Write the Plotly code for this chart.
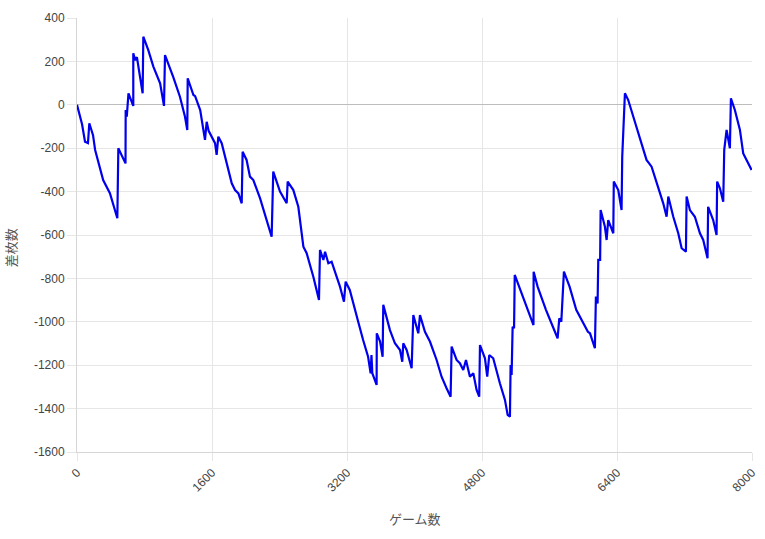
import plotly.graph_objects as go

games = [0, 60, 95, 130, 146, 190, 215, 310, 390, 478, 490, 550, 575, 577, 590, 610, 650, 667, 667, 690,
         710, 765, 778, 786, 845, 905, 985, 1031, 1043, 1140, 1220, 1280, 1307, 1312, 1380, 1400, 1460, 1517, 1537, 1560,
         1597, 1636, 1655, 1675, 1715, 1775, 1834, 1873, 1913, 1952, 1963, 2010, 2050, 2090, 2170, 2307, 2326, 2406, 2485, 2497,
         2564, 2623, 2683, 2722, 2801, 2868, 2880, 2920, 2940, 2979, 3018, 3077, 3117, 3164, 3184, 3233, 3292, 3332, 3391, 3450,
         3480, 3490, 3500, 3551, 3553, 3592, 3622, 3630, 3709, 3768, 3828, 3855, 3867, 3907, 3966, 3986, 4045, 4065, 4124, 4183,
         4262, 4321, 4380, 4428, 4440, 4499, 4538, 4578, 4610, 4657, 4697, 4736, 4767, 4776, 4835, 4862, 4886, 4933, 5012, 5072,
         5104, 5131, 5139, 5151, 5163, 5180, 5188, 5240, 5319, 5410, 5412, 5459, 5558, 5637, 5696, 5716, 5740, 5771, 5838, 5917,
         5996, 6055, 6080, 6138, 6150, 6170, 6178, 6200, 6206, 6257, 6277, 6296, 6356, 6362, 6415, 6454, 6462, 6482, 6494, 6533,
         6632, 6750, 6810, 6889, 6948, 6988, 7008, 7067, 7126, 7166, 7217, 7225, 7264, 7323, 7383, 7422, 7473, 7480, 7540, 7580,
         7587, 7620, 7659, 7671, 7699, 7738, 7750, 7797, 7857, 7896, 7936, 7995]

diff = [0, -90, -170, -176, -85, -140, -208, -347, -407, -523, -200, -254, -270, -24, -55, 53, 7, -5, 237, 206,
        220, 68, 53, 314, 252, 176, 99, -5, 229, 129, 37, -55, -116, 122, 45, 40, -24, -162, -78, -120,
        -147, -177, -231, -147, -177, -270, -362, -393, -408, -454, -216, -254, -331, -347, -431, -608, -308, -400, -454, -354,
        -393, -470, -654, -684, -792, -899, -669, -715, -677, -730, -723, -792, -838, -907, -815, -853, -945, -999, -1084, -1161,
        -1237, -1153, -1237, -1291, -1053, -1091, -1161, -922, -1038, -1099, -1130, -1184, -1099, -1130, -1214, -969, -1053, -969, -1046, -1091,
        -1176, -1253, -1306, -1345, -1114, -1176, -1191, -1222, -1176, -1253, -1237, -1314, -1345, -1107, -1168, -1253, -1153, -1168, -1283, -1360,
        -1429, -1437, -1199, -1245, -1023, -1030, -784, -838, -922, -1015, -769, -838, -945, -1023, -1076, -984, -1000, -769, -838, -945,
        -999, -1046, -1053, -1122, -884, -915, -715, -715, -485, -562, -623, -531, -592, -354, -393, -485, -239, -39, 53, 22,
        -101, -254, -285, -377, -454, -516, -423, -516, -592, -661, -677, -423, -485, -516, -592, -623, -707, -470, -531, -600,
        -354, -385, -447, -208, -116, -200, 30, -24, -116, -224, -254, -300]

x_ticks = [0, 1600, 3200, 4800, 6400, 8000]
y_ticks = list(range(-1600, 401, 200))

GRID = "#e6e6e6"
TICKC = "#444"
TITLEC = "#555"

fig = go.Figure()
fig.add_trace(go.Scatter(x=games, y=diff, mode="lines",
                         line=dict(color="#0000ee", width=2.2), hoverinfo="x+y"))

fig.update_layout(
    width=765, height=539,
    margin=dict(l=77, r=13, t=18, b=87),
    paper_bgcolor="white", plot_bgcolor="white",
    showlegend=False,
    font=dict(family="Liberation Sans, Arial, sans-serif", size=12, color=TICKC),
    annotations=[
        dict(text="ゲーム数", xref="paper", yref="paper", x=0.5, y=-0.154,
             xanchor="center", yanchor="middle", showarrow=False,
             font=dict(family="Noto Sans CJK JP", size=13, color=TITLEC)),
        dict(text="差枚数", xref="paper", yref="paper", x=-0.099, y=0.47,
             xanchor="center", yanchor="middle", showarrow=False, textangle=-90,
             font=dict(family="Noto Sans CJK JP", size=13, color=TITLEC)),
    ],
)
fig.update_xaxes(
    range=[0, 8000], tickvals=x_ticks, ticktext=[str(v) for v in x_ticks],
    tickangle=-45, showgrid=True, gridcolor=GRID, gridwidth=1,
    showline=True, linecolor="#d6d6d6", zeroline=False, automargin=False,
    ticks="outside", ticklen=8, tickcolor=GRID,
    tickfont=dict(size=12, color=TICKC),
)
fig.update_yaxes(
    range=[-1600, 400], tickvals=y_ticks, ticktext=[str(v) for v in y_ticks],
    showgrid=True, gridcolor=GRID, gridwidth=1,
    showline=True, linecolor="#d6d6d6", automargin=False,
    zeroline=True, zerolinecolor="#bdbdbd", zerolinewidth=1,
    ticks="outside", ticklen=9, tickcolor=GRID,
    tickfont=dict(size=12, color=TICKC),
)

fig.write_html("out.html", config={"displayModeBar": False},
               post_script="document.body.style.margin='0';")
